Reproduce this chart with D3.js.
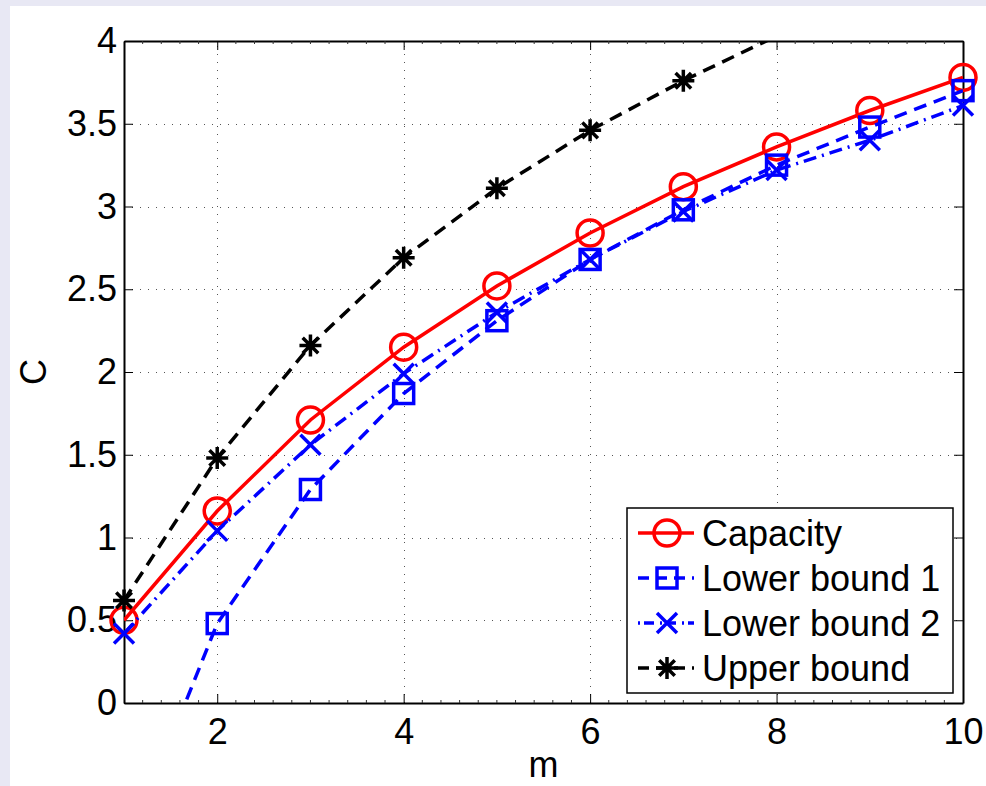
<!DOCTYPE html>
<html>
<head>
<meta charset="utf-8">
<script src="https://cdn.jsdelivr.net/npm/d3@7"></script>
<style>
  body { margin: 0; background: #e8e8f4; }
  svg { display: block; }
  text { font-family: "Liberation Sans", Arial, sans-serif; fill: #000; }
</style>
</head>
<body>
<svg id="chart" width="986" height="786"></svg>
<script>
// data
const mVals = [1, 2, 3, 4, 5, 6, 7, 8, 9, 10];
const capacity = [0.50, 1.16, 1.71, 2.15, 2.52, 2.84, 3.12, 3.36, 3.58, 3.78];
const lower1 = [-0.92, 0.48, 1.29, 1.87, 2.31, 2.68, 2.98, 3.25, 3.48, 3.70];
const lower2 = [0.42, 1.04, 1.56, 1.99, 2.36, 2.68, 2.97, 3.22, 3.40, 3.61];
const upper = [0.62, 1.48, 2.16, 2.69, 3.11, 3.46, 3.76, 4.03, 4.28, 4.51];
const xTicks = [2, 4, 6, 8, 10];
const yTicks = [0, 0.5, 1, 1.5, 2, 2.5, 3, 3.5, 4];
const seriesNames = ["Capacity", "Lower bound 1", "Lower bound 2", "Upper bound"];

var svg = d3.select("#chart");
var pL = 124, pR = 963, pT = 41, pB = 703;

// white figure panel
svg.append("rect").attr("x", 10).attr("y", 6).attr("width", 976).attr("height", 780).attr("fill", "#fff");

var x = d3.scaleLinear().domain([1, 10]).range([pL, pR]);
var y = d3.scaleLinear().domain([0, 4]).range([pB, pT]);

svg.append("clipPath").attr("id", "clip")
    .append("rect").attr("x", pL).attr("y", pT).attr("width", pR - pL).attr("height", pB - pT);

// grid
var grid = svg.append("g").attr("stroke", "#555").attr("stroke-width", 1).attr("stroke-dasharray", "1,7");
grid.selectAll("line.gx").data(xTicks.filter(d => d < 10)).enter().append("line")
    .attr("x1", d => Math.round(x(d)) + 0.5).attr("x2", d => Math.round(x(d)) + 0.5)
    .attr("y1", pB).attr("y2", pT);
grid.selectAll("line.gy").data(yTicks.filter(d => d > 0 && d < 4)).enter().append("line")
    .attr("y1", d => Math.round(y(d)) + 0.5).attr("y2", d => Math.round(y(d)) + 0.5)
    .attr("x1", pL).attr("x2", pR);

// axes (MATLAB box, ticks inward)
var ax = svg.append("g");
ax.append("g").attr("transform", "translate(0," + pB + ")")
    .call(d3.axisBottom(x).tickValues(xTicks).tickSizeInner(-9).tickSizeOuter(0).tickPadding(15).tickFormat(d3.format("d")));
ax.append("g").attr("transform", "translate(0," + pT + ")")
    .call(d3.axisTop(x).tickValues(xTicks).tickSizeInner(-9).tickSizeOuter(0).tickFormat(""));
ax.append("g").attr("transform", "translate(" + pL + ",0)")
    .call(d3.axisLeft(y).tickValues(yTicks).tickSizeInner(-9).tickSizeOuter(0).tickPadding(7).tickFormat(d => d));
ax.append("g").attr("transform", "translate(" + pR + ",0)")
    .call(d3.axisRight(y).tickValues(yTicks).tickSizeInner(-9).tickSizeOuter(0).tickFormat(""));
ax.selectAll(".domain").attr("stroke", "#000").attr("stroke-width", 2);
ax.selectAll(".tick line").attr("stroke", "#000").attr("stroke-width", 1);
ax.selectAll(".tick text").style("font-size", "36px").style("font-family", "Liberation Sans, Arial, sans-serif").attr("fill", "#000");

// minor ticks on x
var minor = d3.range(1.2, 10, 0.2).filter(d => Math.abs(d - Math.round(d / 2) * 2) > 0.01);
ax.selectAll("line.mb").data(minor).enter().append("line")
    .attr("x1", d => x(d)).attr("x2", d => x(d)).attr("y1", pB).attr("y2", pB - 3)
    .attr("stroke", "#333").attr("stroke-width", 1);
ax.selectAll("line.mt").data(minor).enter().append("line")
    .attr("x1", d => x(d)).attr("x2", d => x(d)).attr("y1", pT).attr("y2", pT + 3)
    .attr("stroke", "#333").attr("stroke-width", 1);

// axis labels
svg.append("text").attr("x", (pL + pR) / 2).attr("y", 777).attr("text-anchor", "middle")
    .style("font-size", "36px").text("m");
svg.append("text").attr("transform", "translate(46," + (pT + pB) / 2 + ") rotate(-90)")
    .attr("text-anchor", "middle").style("font-size", "36px").text("C");

// marker shapes
function marker(g, type, cx, cy, color) {
    if (type === "circle") {
        g.append("circle").attr("cx", cx).attr("cy", cy).attr("r", 13)
            .attr("fill", "none").attr("stroke", color).attr("stroke-width", 3.5);
    } else if (type === "square") {
        g.append("rect").attr("x", cx - 10).attr("y", cy - 10).attr("width", 20).attr("height", 20)
            .attr("fill", "none").attr("stroke", color).attr("stroke-width", 3.5);
    } else if (type === "x") {
        var s = 10;
        g.append("path").attr("d", "M" + (cx - s) + "," + (cy - s) + "L" + (cx + s) + "," + (cy + s) +
            "M" + (cx - s) + "," + (cy + s) + "L" + (cx + s) + "," + (cy - s))
            .attr("stroke", color).attr("stroke-width", 3.5);
    } else {
        var r = 11, d = "";
        [0, 45, 90, 135].forEach(function (a) {
            var t = a * Math.PI / 180;
            d += "M" + (cx - r * Math.cos(t)) + "," + (cy - r * Math.sin(t)) + "L" + (cx + r * Math.cos(t)) + "," + (cy + r * Math.sin(t));
        });
        g.append("path").attr("d", d).attr("stroke", color).attr("stroke-width", 3.5);
    }
}

var series = [
    { name: seriesNames[0], values: capacity, color: "#ff0000", dash: null, mk: "circle" },
    { name: seriesNames[1], values: lower1, color: "#0000ff", dash: "13,8", mk: "square" },
    { name: seriesNames[2], values: lower2, color: "#0000ff", dash: "13,6,2,6", mk: "x" },
    { name: seriesNames[3], values: upper, color: "#000000", dash: "13,8", mk: "star" }
];

var line = d3.line().x(d => x(d[0])).y(d => y(d[1]));

series.forEach(function (s) {
    var pts = mVals.map((m, i) => [m, s.values[i]]);
    svg.append("path").datum(pts).attr("d", line).attr("clip-path", "url(#clip)")
        .attr("fill", "none").attr("stroke", s.color).attr("stroke-width", 3.5)
        .attr("stroke-dasharray", s.dash);
    var g = svg.append("g");
    pts.filter(p => p[1] >= 0 && p[1] <= 4).forEach(p => marker(g, s.mk, x(p[0]), y(p[1]), s.color));
});

// legend
var lg = svg.append("g").attr("transform", "translate(627,508)");
lg.append("rect").attr("width", 326).attr("height", 185).attr("fill", "#fff").attr("stroke", "#000").attr("stroke-width", 1.5);
series.forEach(function (s, i) {
    var cy = 25 + i * 45;
    lg.append("line").attr("x1", 11).attr("x2", 67).attr("y1", cy).attr("y2", cy)
        .attr("stroke", s.color).attr("stroke-width", 3.5)
        .attr("stroke-dasharray", s.dash ? (s.mk === "x" ? "2,4,10,6" : "11,7") : null);
    marker(lg, s.mk, 40, cy, s.color);
    lg.append("text").attr("x", 75).attr("y", cy + 13).style("font-size", "36px").text(s.name);
});
</script>
</body>
</html>
